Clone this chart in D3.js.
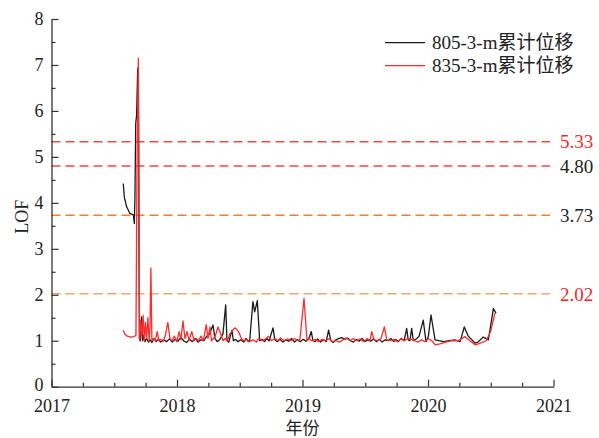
<!DOCTYPE html>
<html>
<head>
<meta charset="utf-8">
<script src="https://cdn.jsdelivr.net/npm/d3@7"></script>
<style>
  html, body { margin: 0; padding: 0; background: #fff; }
  svg { display: block; }
  text { font-family: "Liberation Serif", "Times New Roman", "Noto Sans CJK SC", serif; fill: #222; }
</style>
</head>
<body>
<svg id="chart" width="599" height="438"></svg>
<script>
// ---------------- data ----------------
const yearTicks = [2017, 2018, 2019, 2020, 2021];
const yTicks = [0, 1, 2, 3, 4, 5, 6, 7, 8];
const seriesNames = ["805-3-m累计位移", "835-3-m累计位移"];

const blackYears = [
  2017.572, 2017.580, 2017.598, 2017.625, 2017.652, 2017.660, 2017.665, 2017.671, 2017.678, 2017.687, 2017.692,
  2017.700, 2017.709, 2017.718, 2017.727, 2017.736, 2017.745, 2017.759, 2017.773, 2017.787, 2017.801, 2017.814,
  2017.833, 2017.851, 2017.870, 2017.893, 2017.916, 2017.939, 2017.962, 2017.985, 2018.008, 2018.031, 2018.053, 2018.076,
  2018.099, 2018.122, 2018.145, 2018.168, 2018.191, 2018.214, 2018.237, 2018.260, 2018.287, 2018.302, 2018.320, 2018.339,
  2018.366, 2018.388, 2018.398, 2018.412, 2018.438, 2018.449, 2018.467, 2018.486, 2018.509, 2018.532, 2018.550, 2018.568,
  2018.579, 2018.605, 2018.619, 2018.640, 2018.659, 2018.679, 2018.697, 2018.716, 2018.734, 2018.765, 2018.780, 2018.798,
  2018.821, 2018.844, 2018.867, 2018.890, 2018.913, 2018.936, 2018.959, 2018.982, 2019.005, 2019.028, 2019.051, 2019.070,
  2019.083, 2019.102, 2019.120, 2019.143, 2019.166, 2019.189, 2019.208, 2019.226, 2019.244, 2019.267, 2019.290, 2019.313,
  2019.336, 2019.359, 2019.382, 2019.405, 2019.428, 2019.451, 2019.474, 2019.497, 2019.520, 2019.543, 2019.566, 2019.589,
  2019.612, 2019.635, 2019.658, 2019.681, 2019.704, 2019.727, 2019.745, 2019.764, 2019.787, 2019.810, 2019.830, 2019.842,
  2019.856, 2019.870, 2019.883, 2019.911, 2019.929, 2019.962, 2019.984, 2020.003, 2020.024, 2020.056, 2020.086, 2020.122,
  2020.168, 2020.214, 2020.256, 2020.289, 2020.321, 2020.374, 2020.398, 2020.441, 2020.481, 2020.521, 2020.542
];
const blackValues = [
  4.42, 4.13, 3.92, 3.77, 3.74, 3.55, 4.13, 5.73, 5.9, 6.93, 6.7,
  1.05, 1.0, 1.52, 1.0, 1.12, 0.98, 1.05, 0.97, 1.02, 0.96, 1.05,
  0.98, 1.03, 0.97, 1.02, 0.98, 1.04, 0.97, 1.03, 0.99, 1.08, 1.0, 0.96,
  1.03, 0.98, 1.05, 0.97, 1.02, 1.0, 1.1, 1.15, 1.34, 1.05, 0.98, 1.02,
  1.15, 1.78, 1.0, 0.97, 1.23, 1.0, 1.03, 0.98, 1.02, 0.97, 1.05, 0.98,
  1.0, 1.85, 1.63, 1.87, 1.0, 1.03, 0.98, 1.05, 1.0, 1.28, 1.02, 0.98,
  1.03, 0.97, 1.02, 0.99, 1.05, 0.97, 1.02, 0.98, 1.03, 0.99, 1.05, 1.2,
  1.0, 0.98, 1.04, 0.97, 1.02, 0.98, 1.23, 1.0, 0.96, 1.02, 1.05, 1.07,
  1.03, 1.06, 1.0, 0.97, 1.03, 0.99, 1.05, 0.98, 1.02, 0.99, 1.04, 0.98,
  1.03, 0.97, 1.02, 1.0, 1.05, 0.98, 1.03, 0.98, 1.05, 1.0, 1.27, 1.02,
  1.0, 1.27, 1.0, 1.05, 1.1, 1.45, 0.98, 1.1, 1.56, 1.02, 1.0, 0.98,
  1.0, 1.02, 0.98, 1.3, 1.1, 0.95, 0.97, 1.08, 1.02, 1.7, 1.6
];

const redYears = [
  2017.572, 2017.585, 2017.603, 2017.631, 2017.658, 2017.673, 2017.681, 2017.692, 2017.702, 2017.711, 2017.721,
  2017.730, 2017.739, 2017.748, 2017.757, 2017.768, 2017.778, 2017.785, 2017.792, 2017.800, 2017.814, 2017.828,
  2017.842, 2017.856, 2017.870, 2017.888, 2017.906, 2017.927, 2017.943, 2017.962, 2017.980, 2017.998, 2018.017, 2018.031,
  2018.048, 2018.063, 2018.081, 2018.095, 2018.118, 2018.136, 2018.155, 2018.173, 2018.191, 2018.210, 2018.233, 2018.247,
  2018.263, 2018.274, 2018.302, 2018.327, 2018.348, 2018.366, 2018.385, 2018.403, 2018.421, 2018.460, 2018.476, 2018.495,
  2018.513, 2018.532, 2018.559, 2018.578, 2018.605, 2018.633, 2018.651, 2018.679, 2018.706, 2018.729, 2018.752, 2018.780,
  2018.803, 2018.826, 2018.853, 2018.881, 2018.909, 2018.936, 2018.964, 2018.980, 2019.012, 2019.036, 2019.051, 2019.074,
  2019.102, 2019.129, 2019.157, 2019.185, 2019.212, 2019.240, 2019.267, 2019.295, 2019.322, 2019.350, 2019.378, 2019.405,
  2019.433, 2019.460, 2019.488, 2019.516, 2019.539, 2019.551, 2019.571, 2019.598, 2019.626, 2019.652, 2019.672, 2019.699,
  2019.727, 2019.755, 2019.782, 2019.810, 2019.837, 2019.865, 2019.893, 2019.920, 2019.948, 2019.975, 2020.003, 2020.030,
  2020.058, 2020.095, 2020.141, 2020.187, 2020.242, 2020.293, 2020.334, 2020.378, 2020.417, 2020.463, 2020.499, 2020.533
];
const redValues = [
  1.23, 1.14, 1.1, 1.08, 1.09, 1.12, 4.7, 7.15, 1.0, 1.45, 1.1,
  1.55, 1.0, 1.4, 1.05, 1.5, 1.0, 1.3, 2.58, 1.0, 1.05, 1.0,
  1.2, 1.0, 1.03, 0.98, 1.1, 1.4, 1.05, 1.0, 1.1, 0.98, 1.2, 1.02,
  1.43, 1.05, 1.2, 1.0, 1.2, 1.0, 1.05, 1.0, 1.1, 1.0, 1.35, 1.05,
  1.3, 1.0, 1.08, 1.3, 1.15, 1.0, 1.05, 1.0, 1.15, 1.28, 1.25, 1.17,
  1.05, 1.0, 1.03, 0.98, 1.02, 0.97, 1.05, 1.0, 1.04, 1.1, 1.0, 1.05,
  1.0, 1.06, 1.0, 1.04, 1.0, 1.05, 1.0, 1.04, 1.92, 1.0, 1.05, 1.0,
  1.03, 0.98, 1.03, 1.0, 1.05, 0.98, 1.0, 0.97, 1.02, 1.06, 1.0, 1.05,
  1.0, 1.04, 0.98, 1.05, 1.0, 1.2, 1.02, 1.0, 1.05, 1.3, 1.02, 1.0,
  1.03, 0.98, 1.04, 1.0, 1.05, 1.03, 1.0, 0.97, 1.02, 0.98, 1.05, 1.0,
  0.91, 0.93, 0.97, 1.0, 1.0, 1.09, 1.0, 0.91, 0.95, 1.0, 1.2, 1.6
];

const thresholds = [5.33, 4.80, 3.73, 2.02];
const thresholdLabels = ["5.33", "4.80", "3.73", "2.02"];
const thresholdLineColors = ["#f04a4a", "#f04a4a", "#f27d36", "#f6a46c"];
const thresholdTextColors = ["#ee2b2b", "#222222", "#222222", "#ee2b2b"];
const seriesColors = ["#1a1a1a", "#ff2a2a"];

// ---------------- layout ----------------
const svg = d3.select("#chart");
const plotLeft = 51.5, plotRight = 553.5, plotTop = 19, plotBottom = 386.7;

const x = d3.scaleLinear().domain([2017, 2021]).range([plotLeft, plotRight]);
const y = d3.scaleLinear().domain([0, 8]).range([plotBottom, plotTop]);

// threshold dashed lines
const thr = svg.append("g");
thresholds.forEach((t, i) => {
  thr.append("line")
    .attr("x1", plotLeft).attr("x2", 550)
    .attr("y1", y(t)).attr("y2", y(t))
    .attr("stroke", thresholdLineColors[i])
    .attr("stroke-width", 1.5)
    .attr("stroke-dasharray", "9,5");
  thr.append("text")
    .attr("x", 560).attr("y", y(t))
    .attr("dy", "0.35em")
    .attr("font-size", 19)
    .style("fill", thresholdTextColors[i])
    .text(thresholdLabels[i]);
});

// series
const line = d3.line().x(d => x(d[0])).y(d => y(d[1]));
const blackData = blackYears.map((d, i) => [d, blackValues[i]]);
const redData = redYears.map((d, i) => [d, redValues[i]]);

svg.append("path").datum(blackData)
  .attr("fill", "none").attr("stroke", seriesColors[0])
  .attr("stroke-width", 1.3).attr("stroke-linejoin", "round")
  .attr("d", line);
svg.append("path").datum(redData)
  .attr("fill", "none").attr("stroke", seriesColors[1])
  .attr("stroke-width", 1.3).attr("stroke-linejoin", "round")
  .attr("d", line);

// axes
const axisColor = "#333";
const xMinor = [];
for (let yr = 2017; yr < 2021; yr++) { [0.25, 0.5, 0.75].forEach(q => xMinor.push(yr + q)); }
const yMinor = [0.5, 1.5, 2.5, 3.5, 4.5, 5.5, 6.5, 7.5];

const gx = svg.append("g").attr("transform", `translate(0,${plotBottom})`)
  .call(d3.axisBottom(x).tickValues(yearTicks).tickFormat(d3.format("d"))
    .tickSizeInner(-7).tickSizeOuter(0).tickPadding(8));
svg.append("g").attr("transform", `translate(0,${plotBottom})`)
  .call(d3.axisBottom(x).tickValues(xMinor).tickFormat("").tickSizeInner(-4).tickSizeOuter(0))
  .call(g => g.select(".domain").remove());

const gy = svg.append("g").attr("transform", `translate(${plotLeft},0)`)
  .call(d3.axisLeft(y).tickValues(yTicks).tickFormat(d3.format("d"))
    .tickSizeInner(-7).tickSizeOuter(0).tickPadding(8));
svg.append("g").attr("transform", `translate(${plotLeft},0)`)
  .call(d3.axisLeft(y).tickValues(yMinor).tickFormat("").tickSizeInner(-4).tickSizeOuter(0))
  .call(g => g.select(".domain").remove());

svg.selectAll(".domain").attr("stroke", axisColor).attr("stroke-width", 1.3);
svg.selectAll(".tick line").attr("stroke", axisColor).attr("stroke-width", 1.2);
svg.selectAll(".tick text").attr("font-size", 18)
  .attr("font-family", "'Liberation Serif', serif").style("fill", "#222");
gx.selectAll(".tick text").attr("dy", "0.95em");
gy.selectAll(".tick text").attr("dy", d => d === 0 ? "0.2em" : "0.32em");

// axis titles
svg.append("text")
  .attr("transform", `translate(22,${(plotTop + plotBottom) / 2 + 14}) rotate(-90)`)
  .attr("text-anchor", "middle").attr("dy", "0.35em")
  .attr("font-size", 18).text("LOF");
svg.append("text")
  .attr("x", x(2019)).attr("y", 434)
  .attr("text-anchor", "middle")
  .attr("font-size", 17)
  .style("font-family", "'Noto Sans CJK SC', sans-serif")
  .text("年份");

// legend
const legend = svg.append("g");
seriesNames.forEach((name, i) => {
  const ly = 42.7 + i * 23;
  legend.append("line")
    .attr("x1", 385).attr("x2", 425).attr("y1", ly).attr("y2", ly)
    .attr("stroke", seriesColors[i]).attr("stroke-width", 1.3);
  legend.append("text")
    .attr("x", 432).attr("y", ly).attr("dy", "0.35em")
    .attr("font-size", 19).text(name);
});
</script>
</body>
</html>
